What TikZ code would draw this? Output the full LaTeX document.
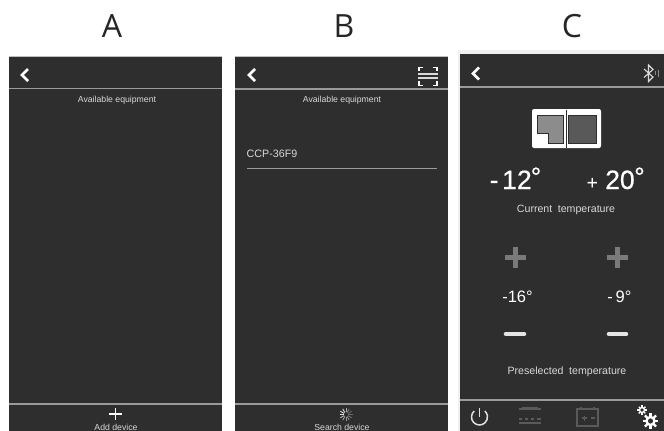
\documentclass[tikz,border=0pt]{standalone}
\usepackage{fontspec}
\usetikzlibrary{calc}
\setmainfont{Liberation Sans}
\newfontfamily\titlefont{Open Sans}
\newfontfamily\heavyfont[FakeBold=0.6]{Liberation Sans}
\definecolor{panel}{HTML}{2F2E2F}
\definecolor{rulec}{HTML}{9A9A9A}
\definecolor{txt}{HTML}{D8D8D8}
\definecolor{dimc}{HTML}{5A5A5A}
\tikzset{
 x=1pt,y=-1pt,
 panelbox/.style={fill=panel,draw=none},
 rulel/.style={draw=rulec,line width=1.2pt},
 title/.style={text=black!85,font=\titlefont\fontsize{32}{32}\selectfont,inner sep=0pt},
 small/.style={text=txt,inner sep=0pt,font=\fontsize{8.7}{9}\selectfont},
 mid/.style={text=txt,inner sep=0pt,font=\fontsize{10.6}{11}\selectfont},
 temp/.style={text=white,inner sep=0pt,font=\heavyfont\fontsize{26.5}{27}\selectfont},
 stemp/.style={text=white,inner sep=0pt,font=\fontsize{16.5}{17}\selectfont},
 backarrow/.style={draw=white,line width=2.7pt,line join=miter},
 btn/.style={line width=4.6pt,line cap=round},
 dimi/.style={draw=dimc,line width=1.1pt},
}
\begin{document}
\begin{tikzpicture}
\useasboundingbox (0,0) rectangle (664,431);
\fill[white] (0,0) rectangle (664,431);
\fill[black!6] (456,50) rectangle (664,431);
\fill[white] (456,50) rectangle (458,431);
% titles
\node[title] (ta) at (112,26) {A};
\node[title] (tb) at (344,26) {B};
\node[title] (tc) at (572,26) {C};
% Screen A
\draw[draw=black!25,line width=.6pt] (9,56) -- (222,56);
\fill[panelbox] (9,56.5) rectangle (222,431);
\draw[rulel] (9,88.5) -- (222,88.5);
\draw[rulel] (9,404) -- (222,404);
\draw[backarrow] (28,69) -- (22,75) -- (28,81);
\node[small] (a1) at (117,100) {Available equipment};
\draw[white,line width=1.1pt] (109,414) -- (122,414) (115.5,407.5) -- (115.5,420);
\node[small,anchor=base] (a2) at (116,430.4) {Add device};
% Screen B
\draw[draw=black!25,line width=.6pt] (235,56.5) -- (448,56.5);
\fill[panelbox] (235,57) rectangle (448,431);
\draw[rulel] (235,89) -- (448,89);
\draw[rulel] (235,404) -- (448,404);
\draw[backarrow] (255,69) -- (249,75) -- (255,81);
\draw[white,line width=1.5pt] (419,71) -- (419,67.7) -- (423,67.7) (433,67.7) -- (437,67.7) -- (437,71)
  (419,81) -- (419,85.3) -- (423,85.3) (433,85.3) -- (437,85.3) -- (437,81);
\draw[white!85!black,line width=1.5pt] (418,74) -- (438,74) (418,78) -- (438,78);
\node[small] (b1) at (342,100) {Available equipment};
\node[anchor=west,text=txt,inner sep=0pt,font=\fontsize{10.7}{11}\selectfont] (b2) at (246.5,154) {CCP-36F9};
\draw[draw=rulec,line width=.8pt] (246.5,168) -- (436.5,168);
\foreach \a/\c in {0/30,30/35,60/45,90/50,120/60,150/70,180/85,210/95,240/90,270/60,300/40,330/30}
  \draw[white!\c!panel,line width=.8pt] ($(346,414.5)+(\a:2.2)$) -- ($(346,414.5)+(\a:6.5)$);
\node[small,anchor=base] (b3) at (342,430.4) {Search device};
% Screen C
\fill[panelbox] (460,54) rectangle (664,431);
\draw[rulel] (460,87) -- (664,87);
\draw[rulel] (460,400) -- (664,400);
\draw[backarrow] (479,67.5) -- (473,73.5) -- (479,79.5);
\draw[white!85!black,line width=1.1pt] (644,69) -- (653,77) -- (648.5,81.5) -- (648.5,65) -- (653,69.5) -- (644,77.5);
\draw[white!45!panel,line width=.7pt] (655,71) -- (655,75) (658,69.5) -- (658,76.5);
% fridge icon
\fill[white,rounded corners=2pt] (532,109) rectangle (601,148);
\draw[panel,line width=.8pt] (566,109.5) -- (566,148);
\draw[draw=panel,fill=black!45,line width=.8pt] (537,115) -- (563,115) -- (563,143) -- (548,143) -- (548,133) -- (537,133) -- cycle;
\draw[draw=panel,fill=black!65,line width=.8pt] (568,115) rectangle (596,143);
% current temps
\node[temp,anchor=base west] (m1) at (489.5,189) {-};
\node[temp,anchor=base west] (t1) at (502,189) {12};
\node[temp,anchor=base west] (d1) at (530.5,186) {°};
\node[temp,anchor=base west,font=\heavyfont\fontsize{19}{19}\selectfont] (p2) at (586.5,189) {+};
\node[temp,anchor=base west] (t2) at (605,189) {20};
\node[temp,anchor=base west] (d2) at (634,186) {°};
\node[mid] (c1) at (566,210) {Current\hspace{.25em} temperature};
% setpoints
\draw[black!52,btn,line cap=butt] (505,257.5) -- (526,257.5) (515.5,247) -- (515.5,268);
\draw[black!52,btn,line cap=butt] (607,257.5) -- (628,257.5) (617.5,247) -- (617.5,268);
\node[stemp] (s1) at (517.5,297) {-16°};
\node[stemp] (s2) at (619.5,297) {-\,9°};
\draw[white!90!black,btn] (506,334) -- (524,334);
\draw[white!90!black,btn] (609,334) -- (626,334);
\node[mid] (c2) at (567,372) {Preselected\hspace{.25em} temperature};
% bottom icons
\draw[white!88!black,line width=1.5pt] (474.15,411.05) arc[start angle=132,delta angle=276,radius=8pt];
\draw[white!88!black,line width=1.5pt] (479.5,408) -- (479.5,417);
\draw[dimi] (519,409) -- (541,409) (519,419) -- (522,419) (525,419) -- (528,419) (531,419) -- (534,419) (537,419) -- (541,419) (519,423) -- (541,423);
\draw[dimc,line width=1.4pt] (522,407.5) -- (538,407.5);
\draw[dimi] (577,409) rectangle (598,426);
\draw[dimi] (581,409) -- (581,407) (594,409) -- (594,407);
\draw[dimi] (582,418) -- (587,418) (584.5,415.5) -- (584.5,420.5) (591,418) -- (595,418);
\foreach \a in {0,45,...,315} {
  \draw[white,line width=2.4pt] ($(650.5,421)+(\a:4)$) -- ($(650.5,421)+(\a:7.8)$);
  \draw[white,line width=1.4pt] ($(642,410)+(\a:2)$) -- ($(642,410)+(\a:4.6)$);
}
\draw[white,line width=2.4pt] (650.5,421) circle[radius=4pt];
\draw[white,line width=1.2pt] (642,410) circle[radius=2.4pt];
\end{tikzpicture}
\end{document}
